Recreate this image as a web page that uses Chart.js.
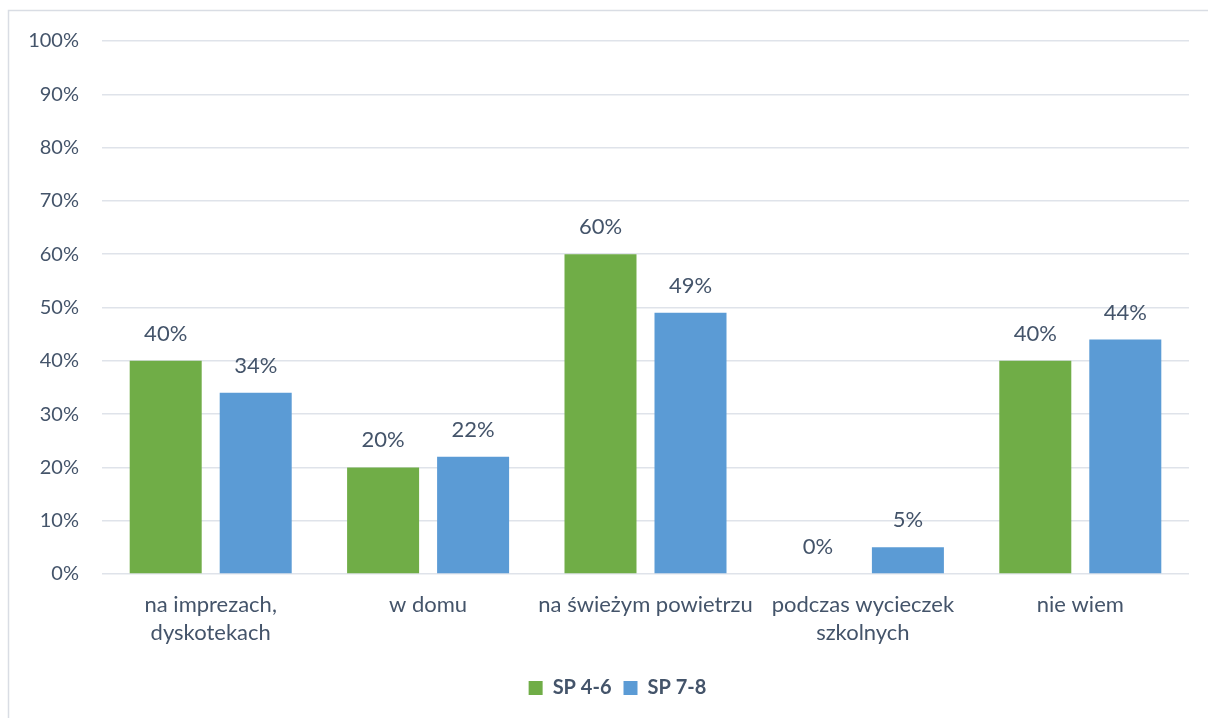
<!DOCTYPE html>
<html>
<head>
<meta charset="utf-8">
<script src="https://cdn.jsdelivr.net/npm/chart.js@4"></script>
<style>
  html, body { margin: 0; padding: 0; background: #fff; }
  #wrap { width: 1208px; height: 718px; }
</style>
</head>
<body>
<div id="wrap"><canvas id="myChart"></canvas></div>
<script>
const ctx = document.querySelector('#myChart')

const categories = [['na imprezach,', 'dyskotekach'], 'w domu', 'na świeżym powietrzu', ['podczas wycieczek', 'szkolnych'], 'nie wiem']
const sp46 = [40, 20, 60, 0, 40]
const sp78 = [34, 22, 49, 5, 44]
const seriesNames = ['SP 4-6', 'SP 7-8']
const textColor = '#44546a'
const fontFamily = 'Lato, "Open Sans", sans-serif'

// frame around the whole chart
const frame = {
    id: 'frame',
    beforeDraw(chart) {
        const c = chart.ctx
        c.save()
        c.strokeStyle = '#d9dde4'
        c.lineWidth = 1.5
        c.strokeRect(8.5, 10.5, chart.width + 20, chart.height + 20)
        c.restore()
    },
    // legend sits a bit right of the canvas centre
    afterLayout(chart) {
        chart.legend.left += 46
        chart.legend.right += 0
    }
}

// value labels above the bars
const valueLabels = {
    id: 'valueLabels',
    afterDatasetsDraw(chart) {
        const c = chart.ctx
        c.save()
        c.fillStyle = textColor
        c.font = '22px ' + fontFamily
        c.textAlign = 'center'
        c.textBaseline = 'middle'
        chart.data.datasets.forEach((ds, i) => {
            chart.getDatasetMeta(i).data.forEach((bar, j) => {
                c.fillText(ds.data[j] + '%', bar.x, bar.y - 27)
            })
        })
        c.restore()
    }
}

new Chart(ctx, {
    type: 'bar',
    data: {
        labels: categories,
        datasets: [{
            label: seriesNames[0],
            data: sp46,
            backgroundColor: '#70ad47',
            categoryPercentage: 0.828,
            barPercentage: 0.8
        }, {
            label: seriesNames[1],
            data: sp78,
            backgroundColor: '#5b9bd5',
            categoryPercentage: 0.828,
            barPercentage: 0.8
        }]
    },
    options: {
        responsive: true,
        maintainAspectRatio: false,
        animation: false,
        layout: { padding: { top: 41, right: 19, bottom: 10, left: 0 } },
        plugins: {
            legend: {
                position: 'bottom',
                labels: {
                    color: textColor,
                    font: { family: fontFamily, size: 20, weight: 'bold' },
                    boxWidth: 14,
                    boxHeight: 14,
                    padding: 12
                }
            },
            tooltip: { enabled: false }
        },
        scales: {
            x: {
                grid: { display: false },
                border: { display: false },
                ticks: {
                    color: textColor,
                    font: { family: fontFamily, size: 22, lineHeight: 1.27 },
                    maxRotation: 0,
                    padding: 9
                },
                afterFit(scale) { scale.height = 92 }
            },
            y: {
                min: 0,
                max: 100,
                grid: { color: '#dfe3ea', lineWidth: 1.5, drawTicks: false },
                border: { display: false },
                ticks: {
                    stepSize: 10,
                    color: textColor,
                    font: { family: fontFamily, size: 20 },
                    padding: 23,
                    callback: v => v + '%'
                },
                afterFit(scale) { scale.width = 102 }
            }
        }
    },
    plugins: [frame, valueLabels]
})
</script>
</body>
</html>
